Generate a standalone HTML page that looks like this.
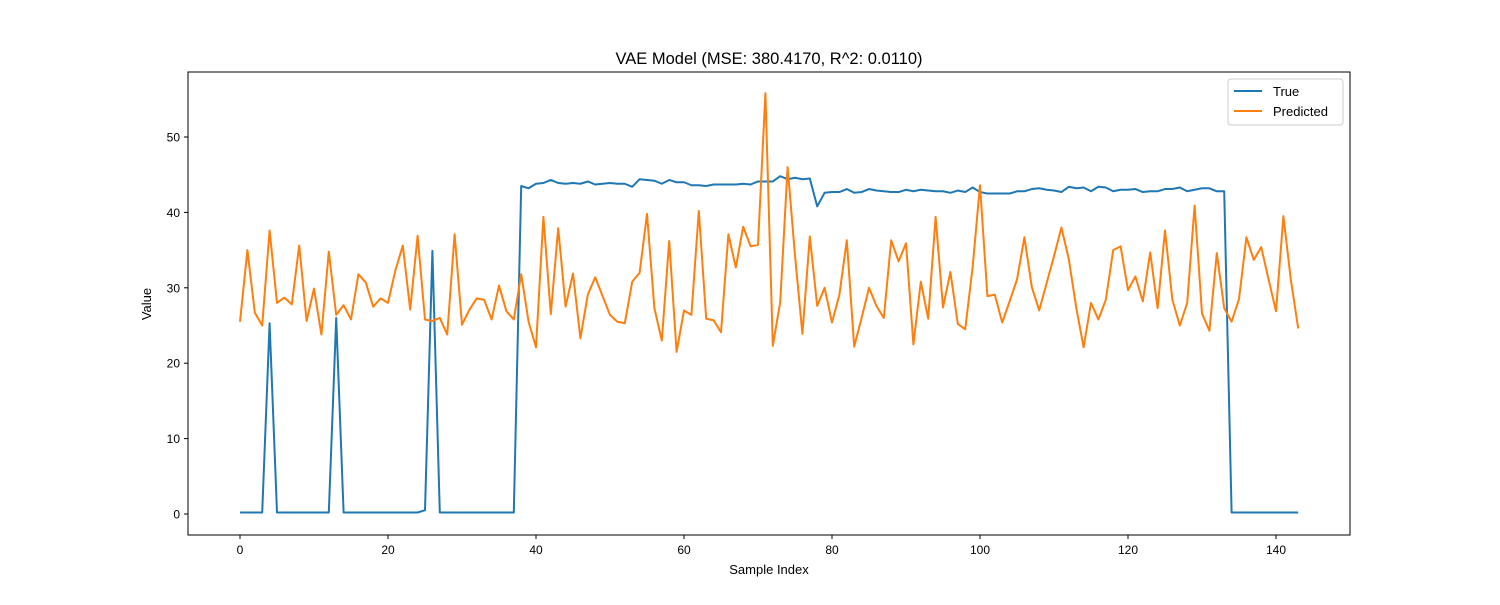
<!DOCTYPE html>
<html><head><meta charset="utf-8"><style>
body{margin:0;background:#fff;}
svg text{font-family:"Liberation Sans","DejaVu Sans",sans-serif;}
</style></head><body>
<svg id="chart" width="1500" height="600" xmlns="http://www.w3.org/2000/svg">
<rect width="1500" height="600" fill="#fff"/>
<text x="769" y="64" font-size="16.5" text-anchor="middle">VAE Model (MSE: 380.4170, R^2: 0.0110)</text>
<g id="plot"></g>
<rect x="188" y="72" width="1162" height="463" fill="none" stroke="#000" stroke-width="1"/>
<text x="769" y="574" font-size="13" text-anchor="middle">Sample Index</text>
<text x="151" y="304" font-size="13" text-anchor="middle" transform="rotate(-90 151 304)">Value</text>
<g>
<rect x="1228" y="79" width="115" height="46" rx="3" fill="#fff" fill-opacity="0.8" stroke="#ccc"/>
<line x1="1234" y1="91" x2="1262" y2="91" stroke="#1f77b4" stroke-width="2"/>
<text x="1273" y="96" font-size="13">True</text>
<line x1="1234" y1="111" x2="1262" y2="111" stroke="#ff7f0e" stroke-width="2"/>
<text x="1273" y="116" font-size="13">Predicted</text>
</g>
</svg>
<script>
const trueVals=[0.2,0.2,0.2,0.2,25.3,0.2,0.2,0.2,0.2,0.2,0.2,0.2,0.2,26,0.2,0.2,0.2,0.2,0.2,0.2,0.2,0.2,0.2,0.2,0.2,0.5,34.9,0.2,0.2,0.2,0.2,0.2,0.2,0.2,0.2,0.2,0.2,0.2,43.5,43.2,43.8,43.9,44.3,43.9,43.8,43.9,43.8,44.1,43.7,43.8,43.9,43.8,43.8,43.4,44.4,44.3,44.2,43.8,44.3,44,44,43.6,43.6,43.5,43.7,43.7,43.7,43.7,43.8,43.7,44.1,44.1,44.1,44.8,44.4,44.6,44.4,44.5,40.8,42.6,42.7,42.7,43.1,42.6,42.7,43.1,42.9,42.8,42.7,42.7,43,42.8,43,42.9,42.8,42.8,42.6,42.9,42.7,43.3,42.7,42.5,42.5,42.5,42.5,42.8,42.8,43.1,43.2,43,42.9,42.7,43.4,43.2,43.3,42.8,43.4,43.3,42.8,43,43,43.1,42.7,42.8,42.8,43.1,43.1,43.3,42.8,43,43.2,43.2,42.8,42.8,0.2,0.2,0.2,0.2,0.2,0.2,0.2,0.2,0.2,0.2];
const predVals=[25.5,35,26.7,25,37.6,28,28.7,27.8,35.6,25.6,29.9,23.8,34.8,26.4,27.7,25.8,31.8,30.7,27.5,28.6,28,32.3,35.6,27.1,36.9,25.8,25.6,26,23.8,37.1,25.1,27.1,28.6,28.4,25.8,30.3,26.9,25.8,31.8,25.5,22.1,39.4,26.5,37.9,27.5,31.9,23.3,29.1,31.4,28.9,26.4,25.5,25.3,30.8,32,39.8,27.3,23,36.2,21.5,27,26.4,40.2,25.9,25.7,24.1,37.1,32.7,38.1,35.5,35.7,55.8,22.3,28.1,46,34.3,23.9,36.8,27.6,30,25.4,29.1,36.3,22.2,26,30,27.6,26,36.3,33.5,35.9,22.5,30.8,25.9,39.4,27.4,32.1,25.2,24.5,32.7,43.6,28.9,29.1,25.4,28.2,31.1,36.7,30.1,27,30.6,34.2,38,33.8,27.4,22.1,28,25.8,28.4,35,35.5,29.7,31.5,28.2,34.7,27.3,37.6,28.4,25,28,40.9,26.6,24.3,34.6,27.3,25.5,28.5,36.7,33.7,35.4,31.1,26.9,39.5,31.1,24.6];
const xTicks=[0,20,40,60,80,100,120,140];
const yTicks=[0,10,20,30,40,50];
const X=v=>240+v*7.4;
const Y=v=>514-v*7.54;
const NS='http://www.w3.org/2000/svg';
const g=document.getElementById('plot');
function mk(t,a){const e=document.createElementNS(NS,t);for(const k in a)e.setAttribute(k,a[k]);g.appendChild(e);return e;}
xTicks.forEach(t=>{
  const l=mk('line',{x1:X(t),x2:X(t),y1:535,y2:539,stroke:'#000'});
  
  
  const tx=mk('text',{x:X(t),y:554,'font-size':12,'text-anchor':'middle'});tx.textContent=t;
  
  
});
yTicks.forEach(t=>{
  const l=mk('line',{x1:184,x2:188,y1:Y(t),y2:Y(t),stroke:'#000'});
  
  
  const tx=mk('text',{x:180,y:Y(t)+4.5,'font-size':12,'text-anchor':'end'});tx.textContent=t;
  
  
});
function line(vals,color,name){
  const p=mk('polyline',{points:vals.map((v,i)=>X(i)+','+Y(v)).join(' '),fill:'none',stroke:color,'stroke-width':2,'stroke-linejoin':'round'});
  
  
}
line(trueVals,'#1f77b4','true-line');
line(predVals,'#ff7f0e','predicted-line');
</script>
</body></html>
